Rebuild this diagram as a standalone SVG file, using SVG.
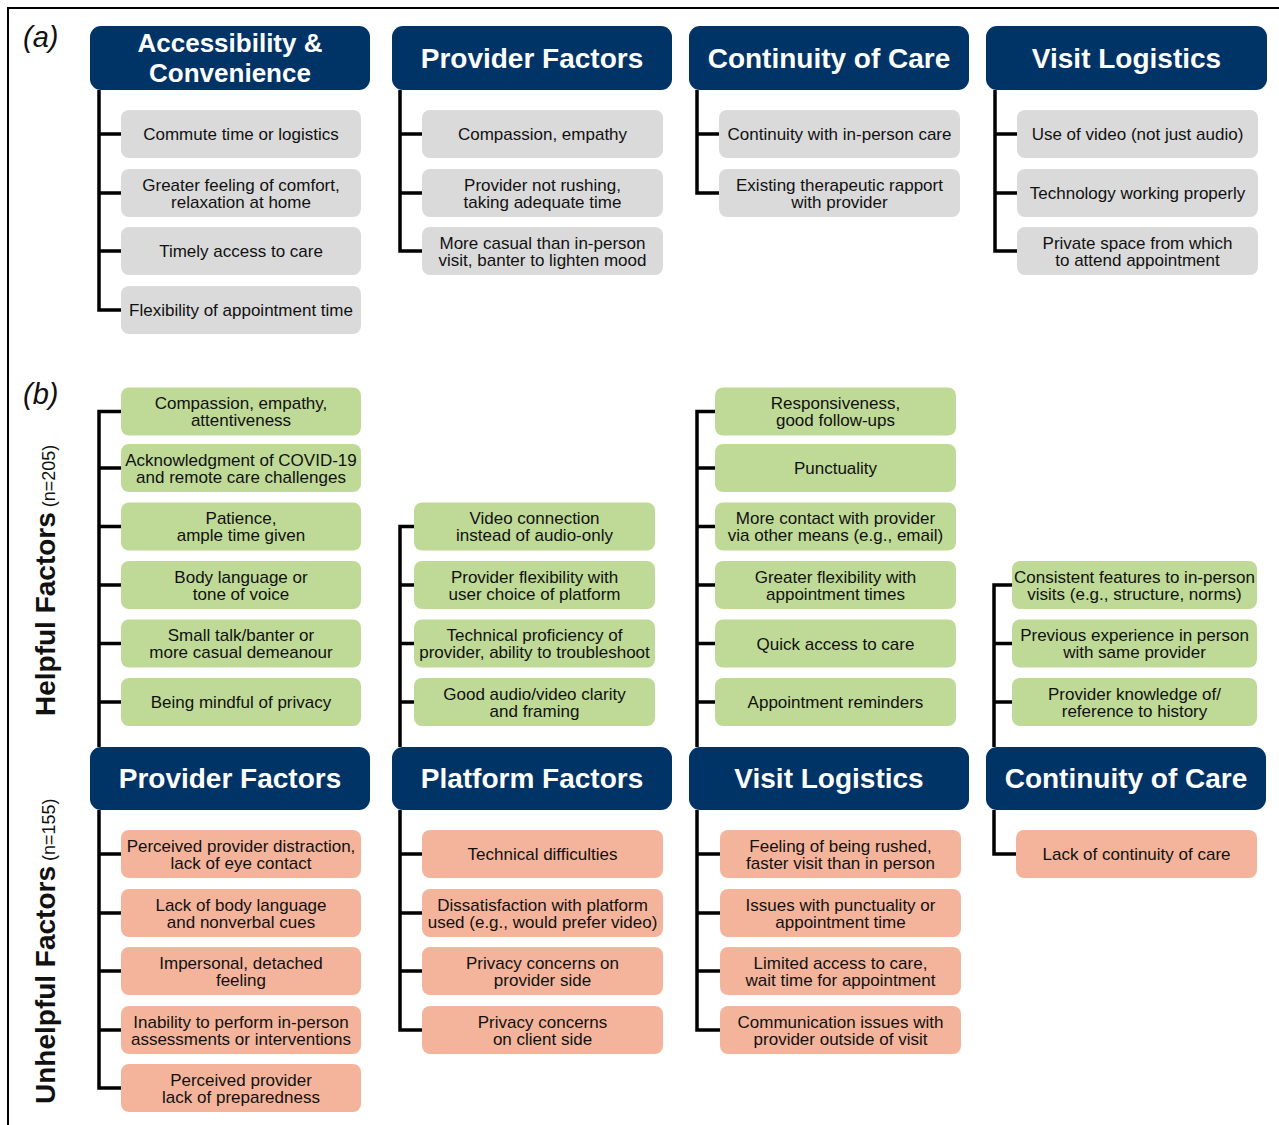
<svg xmlns="http://www.w3.org/2000/svg" width="1279" height="1125" viewBox="0 0 1279 1125">
<style>
.hdr{fill:#003366}
.g{fill:#DADADA}
.gr{fill:#BFD996}
.sa{fill:#F4B49B}
.ht{font-family:"Liberation Sans",Arial,sans-serif;font-weight:bold;font-size:28px;fill:#fff;text-anchor:middle}
.it{font-family:"Liberation Sans",Arial,sans-serif;font-size:17px;fill:#111;text-anchor:middle}
.lab{font-family:"Liberation Sans",Arial,sans-serif;font-style:italic;font-size:29px;fill:#111}
.side{font-family:"Liberation Sans",Arial,sans-serif;fill:#111}
.con{fill:none;stroke:#000;stroke-width:3.5;stroke-linejoin:miter}
</style>
<rect x="0" y="0" width="1279" height="1125" fill="#fff"/>
<path d="M8 1125 V8 H1279" fill="none" stroke="#000" stroke-width="2"/>
<text class="lab" x="23" y="47">(a)</text>
<text class="lab" x="23" y="404">(b)</text>
<text class="side" transform="translate(55,716) rotate(-90)"><tspan font-weight="bold" font-size="28">Helpful Factors</tspan><tspan font-size="18"> (n=205)</tspan></text>
<text class="side" transform="translate(55,1104) rotate(-90)"><tspan font-weight="bold" font-size="28">Unhelpful Factors</tspan><tspan font-size="18"> (n=155)</tspan></text>

<g id="connectors">
<path class="con" d="M99 90 V310 H121 M99 134 H121 M99 193 H121 M99 251 H121"/>
<path class="con" d="M400 90 V251 H422 M400 134 H422 M400 193 H422"/>
<path class="con" d="M697 90 V193 H719 M697 134 H719"/>
<path class="con" d="M995 90 V251 H1017 M995 134 H1017 M995 193 H1017"/>
<path class="con" d="M121 411.5 H99 V747 M99 468 H121 M99 526.5 H121 M99 585 H121 M99 643.5 H121 M99 702 H121"/>
<path class="con" d="M414 526.5 H400 V747 M400 585 H414 M400 643.5 H414 M400 702 H414"/>
<path class="con" d="M715 411.5 H697 V747 M697 468 H715 M697 526.5 H715 M697 585 H715 M697 643.5 H715 M697 702 H715"/>
<path class="con" d="M1012 585 H994 V747 M994 643.5 H1012 M994 702 H1012"/>
<path class="con" d="M99 810 V1088 H121 M99 854 H121 M99 913 H121 M99 971 H121 M99 1030 H121"/>
<path class="con" d="M400 810 V1030 H422 M400 854 H422 M400 913 H422 M400 971 H422"/>
<path class="con" d="M697 810 V1030 H720 M697 854 H720 M697 913 H720 M697 971 H720"/>
<path class="con" d="M994 810 V854 H1016"/>
</g>

<!-- (a) headers -->
<g id="a-h1"><rect class="hdr" x="90" y="26" width="280" height="64" rx="11"/><text class="ht" font-size="26" style="font-size:26px"><tspan x="230" y="52">Accessibility &amp;</tspan><tspan x="230" y="81.5">Convenience</tspan></text></g>
<g id="a-h2"><rect class="hdr" x="392" y="26" width="280" height="64" rx="11"/><text class="ht" x="532" y="68">Provider Factors</text></g>
<g id="a-h3"><rect class="hdr" x="689" y="26" width="280" height="64" rx="11"/><text class="ht" x="829" y="68">Continuity of Care</text></g>
<g id="a-h4"><rect class="hdr" x="986" y="26" width="281" height="64" rx="11"/><text class="ht" x="1126.5" y="68">Visit Logistics</text></g>

<!-- (a) col1 -->
<g id="a1-1"><rect class="g" x="121" y="110" width="240" height="48" rx="8"/><text class="it" x="241" y="140">Commute time or logistics</text></g>
<g id="a1-2"><rect class="g" x="121" y="169" width="240" height="48" rx="8"/><text class="it" x="241" y="190.5">Greater feeling of comfort,</text><text class="it" x="241" y="207.5">relaxation at home</text></g>
<g id="a1-3"><rect class="g" x="121" y="227" width="240" height="48" rx="8"/><text class="it" x="241" y="257">Timely access to care</text></g>
<g id="a1-4"><rect class="g" x="121" y="286" width="240" height="48" rx="8"/><text class="it" x="241" y="316">Flexibility of appointment time</text></g>
<!-- (a) col2 -->
<g id="a2-1"><rect class="g" x="422" y="110" width="241" height="48" rx="8"/><text class="it" x="542.5" y="140">Compassion, empathy</text></g>
<g id="a2-2"><rect class="g" x="422" y="169" width="241" height="48" rx="8"/><text class="it" x="542.5" y="190.5">Provider not rushing,</text><text class="it" x="542.5" y="207.5">taking adequate time</text></g>
<g id="a2-3"><rect class="g" x="422" y="227" width="241" height="48" rx="8"/><text class="it" x="542.5" y="248.5">More casual than in-person</text><text class="it" x="542.5" y="265.5">visit, banter to lighten mood</text></g>
<!-- (a) col3 -->
<g id="a3-1"><rect class="g" x="719" y="110" width="241" height="48" rx="8"/><text class="it" x="839.5" y="140">Continuity with in-person care</text></g>
<g id="a3-2"><rect class="g" x="719" y="169" width="241" height="48" rx="8"/><text class="it" x="839.5" y="190.5">Existing therapeutic rapport</text><text class="it" x="839.5" y="207.5">with provider</text></g>
<!-- (a) col4 -->
<g id="a4-1"><rect class="g" x="1017" y="110" width="241" height="48" rx="8"/><text class="it" x="1137.5" y="140">Use of video (not just audio)</text></g>
<g id="a4-2"><rect class="g" x="1017" y="169" width="241" height="48" rx="8"/><text class="it" x="1137.5" y="199">Technology working properly</text></g>
<g id="a4-3"><rect class="g" x="1017" y="227" width="241" height="48" rx="8"/><text class="it" x="1137.5" y="248.5">Private space from which</text><text class="it" x="1137.5" y="265.5">to attend appointment</text></g>

<!-- (b) helpful col1 -->
<g id="h1-1"><rect class="gr" x="121" y="387.5" width="240" height="48" rx="8"/><text class="it" x="241" y="409">Compassion, empathy,</text><text class="it" x="241" y="426">attentiveness</text></g>
<g id="h1-2"><rect class="gr" x="121" y="444" width="240" height="48" rx="8"/><text class="it" x="241" y="465.5">Acknowledgment of COVID-19</text><text class="it" x="241" y="482.5">and remote care challenges</text></g>
<g id="h1-3"><rect class="gr" x="121" y="502.5" width="240" height="48" rx="8"/><text class="it" x="241" y="524">Patience,</text><text class="it" x="241" y="541">ample time given</text></g>
<g id="h1-4"><rect class="gr" x="121" y="561" width="240" height="48" rx="8"/><text class="it" x="241" y="582.5">Body language or</text><text class="it" x="241" y="599.5">tone of voice</text></g>
<g id="h1-5"><rect class="gr" x="121" y="619.5" width="240" height="48" rx="8"/><text class="it" x="241" y="641">Small talk/banter or</text><text class="it" x="241" y="658">more casual demeanour</text></g>
<g id="h1-6"><rect class="gr" x="121" y="678" width="240" height="48" rx="8"/><text class="it" x="241" y="708">Being mindful of privacy</text></g>
<!-- helpful col2 -->
<g id="h2-1"><rect class="gr" x="414" y="502.5" width="241" height="48" rx="8"/><text class="it" x="534.5" y="524">Video connection</text><text class="it" x="534.5" y="541">instead of audio-only</text></g>
<g id="h2-2"><rect class="gr" x="414" y="561" width="241" height="48" rx="8"/><text class="it" x="534.5" y="582.5">Provider flexibility with</text><text class="it" x="534.5" y="599.5">user choice of platform</text></g>
<g id="h2-3"><rect class="gr" x="414" y="619.5" width="241" height="48" rx="8"/><text class="it" x="534.5" y="641">Technical proficiency of</text><text class="it" x="534.5" y="658">provider, ability to troubleshoot</text></g>
<g id="h2-4"><rect class="gr" x="414" y="678" width="241" height="48" rx="8"/><text class="it" x="534.5" y="699.5">Good audio/video clarity</text><text class="it" x="534.5" y="716.5">and framing</text></g>
<!-- helpful col3 -->
<g id="h3-1"><rect class="gr" x="715" y="387.5" width="241" height="48" rx="8"/><text class="it" x="835.5" y="409">Responsiveness,</text><text class="it" x="835.5" y="426">good follow-ups</text></g>
<g id="h3-2"><rect class="gr" x="715" y="444" width="241" height="48" rx="8"/><text class="it" x="835.5" y="474">Punctuality</text></g>
<g id="h3-3"><rect class="gr" x="715" y="502.5" width="241" height="48" rx="8"/><text class="it" x="835.5" y="524">More contact with provider</text><text class="it" x="835.5" y="541">via other means (e.g., email)</text></g>
<g id="h3-4"><rect class="gr" x="715" y="561" width="241" height="48" rx="8"/><text class="it" x="835.5" y="582.5">Greater flexibility with</text><text class="it" x="835.5" y="599.5">appointment times</text></g>
<g id="h3-5"><rect class="gr" x="715" y="619.5" width="241" height="48" rx="8"/><text class="it" x="835.5" y="649.5">Quick access to care</text></g>
<g id="h3-6"><rect class="gr" x="715" y="678" width="241" height="48" rx="8"/><text class="it" x="835.5" y="708">Appointment reminders</text></g>
<!-- helpful col4 -->
<g id="h4-1"><rect class="gr" x="1012" y="561" width="245" height="48" rx="8"/><text class="it" x="1134.5" y="582.5">Consistent features to in-person</text><text class="it" x="1134.5" y="599.5">visits (e.g., structure, norms)</text></g>
<g id="h4-2"><rect class="gr" x="1012" y="619.5" width="245" height="48" rx="8"/><text class="it" x="1134.5" y="641">Previous experience in person</text><text class="it" x="1134.5" y="658">with same provider</text></g>
<g id="h4-3"><rect class="gr" x="1012" y="678" width="245" height="48" rx="8"/><text class="it" x="1134.5" y="699.5">Provider knowledge of/</text><text class="it" x="1134.5" y="716.5">reference to history</text></g>

<!-- (b) headers -->
<g id="b-h1"><rect class="hdr" x="90" y="747" width="280" height="63" rx="11"/><text class="ht" x="230" y="788">Provider Factors</text></g>
<g id="b-h2"><rect class="hdr" x="392" y="747" width="280" height="63" rx="11"/><text class="ht" x="532" y="788">Platform Factors</text></g>
<g id="b-h3"><rect class="hdr" x="689" y="747" width="280" height="63" rx="11"/><text class="ht" x="829" y="788">Visit Logistics</text></g>
<g id="b-h4"><rect class="hdr" x="986" y="747" width="280" height="63" rx="11"/><text class="ht" x="1126" y="788">Continuity of Care</text></g>

<!-- unhelpful col1 -->
<g id="u1-1"><rect class="sa" x="121" y="830" width="240" height="48" rx="8"/><text class="it" x="241" y="851.5">Perceived provider distraction,</text><text class="it" x="241" y="868.5">lack of eye contact</text></g>
<g id="u1-2"><rect class="sa" x="121" y="889" width="240" height="48" rx="8"/><text class="it" x="241" y="910.5">Lack of body language</text><text class="it" x="241" y="927.5">and nonverbal cues</text></g>
<g id="u1-3"><rect class="sa" x="121" y="947" width="240" height="48" rx="8"/><text class="it" x="241" y="968.5">Impersonal, detached</text><text class="it" x="241" y="985.5">feeling</text></g>
<g id="u1-4"><rect class="sa" x="121" y="1006" width="240" height="48" rx="8"/><text class="it" x="241" y="1027.5">Inability to perform in-person</text><text class="it" x="241" y="1044.5">assessments or interventions</text></g>
<g id="u1-5"><rect class="sa" x="121" y="1064" width="240" height="48" rx="8"/><text class="it" x="241" y="1085.5">Perceived provider</text><text class="it" x="241" y="1102.5">lack of preparedness</text></g>
<!-- unhelpful col2 -->
<g id="u2-1"><rect class="sa" x="422" y="830" width="241" height="48" rx="8"/><text class="it" x="542.5" y="860">Technical difficulties</text></g>
<g id="u2-2"><rect class="sa" x="422" y="889" width="241" height="48" rx="8"/><text class="it" x="542.5" y="910.5">Dissatisfaction with platform</text><text class="it" x="542.5" y="927.5">used (e.g., would prefer video)</text></g>
<g id="u2-3"><rect class="sa" x="422" y="947" width="241" height="48" rx="8"/><text class="it" x="542.5" y="968.5">Privacy concerns on</text><text class="it" x="542.5" y="985.5">provider side</text></g>
<g id="u2-4"><rect class="sa" x="422" y="1006" width="241" height="48" rx="8"/><text class="it" x="542.5" y="1027.5">Privacy concerns</text><text class="it" x="542.5" y="1044.5">on client side</text></g>
<!-- unhelpful col3 -->
<g id="u3-1"><rect class="sa" x="720" y="830" width="241" height="48" rx="8"/><text class="it" x="840.5" y="851.5">Feeling of being rushed,</text><text class="it" x="840.5" y="868.5">faster visit than in person</text></g>
<g id="u3-2"><rect class="sa" x="720" y="889" width="241" height="48" rx="8"/><text class="it" x="840.5" y="910.5">Issues with punctuality or</text><text class="it" x="840.5" y="927.5">appointment time</text></g>
<g id="u3-3"><rect class="sa" x="720" y="947" width="241" height="48" rx="8"/><text class="it" x="840.5" y="968.5">Limited access to care,</text><text class="it" x="840.5" y="985.5">wait time for appointment</text></g>
<g id="u3-4"><rect class="sa" x="720" y="1006" width="241" height="48" rx="8"/><text class="it" x="840.5" y="1027.5">Communication issues with</text><text class="it" x="840.5" y="1044.5">provider outside of visit</text></g>
<!-- unhelpful col4 -->
<g id="u4-1"><rect class="sa" x="1016" y="830" width="241" height="48" rx="8"/><text class="it" x="1136.5" y="860">Lack of continuity of care</text></g>
</svg>
